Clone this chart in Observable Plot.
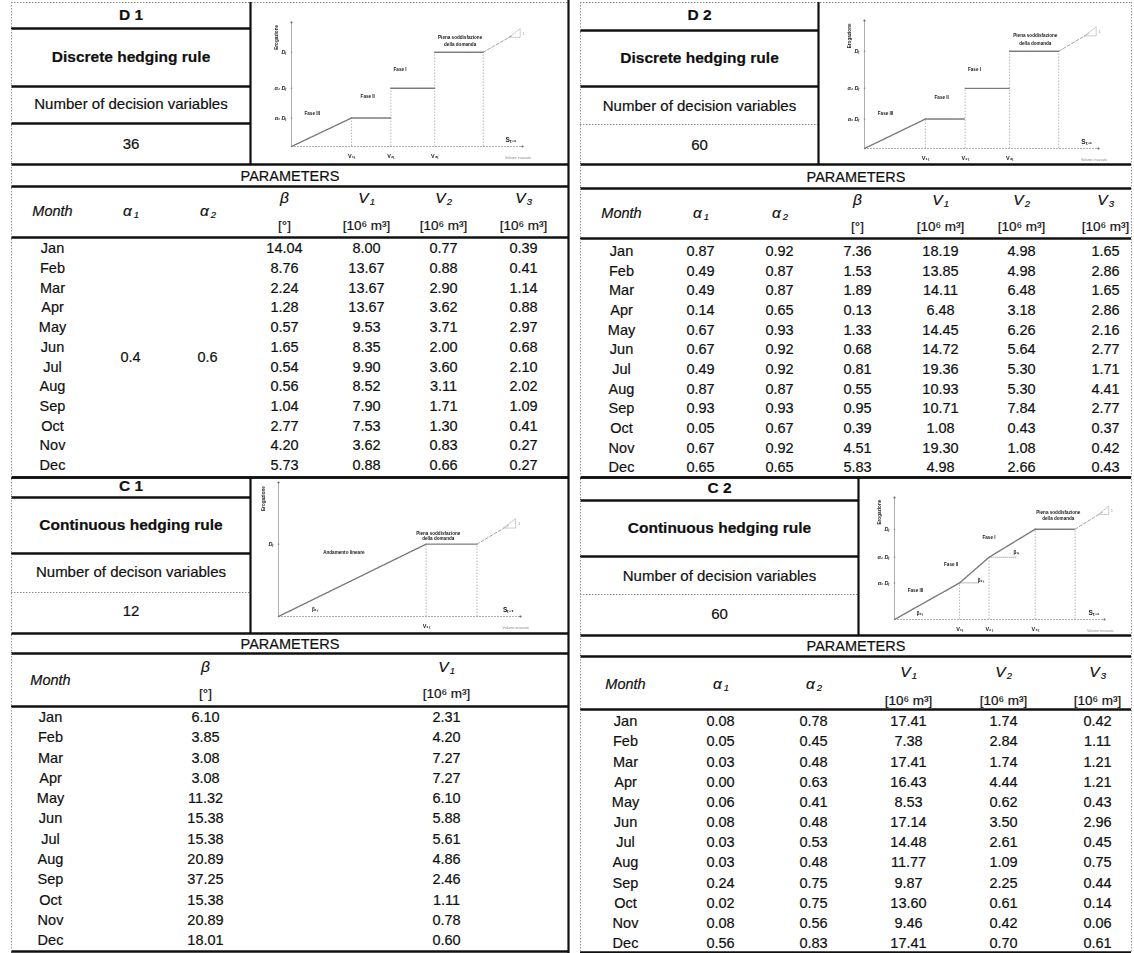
<!DOCTYPE html>
<html>
<head>
<meta charset="utf-8">
<script src="https://cdn.jsdelivr.net/npm/d3@7"></script>
<script src="https://cdn.jsdelivr.net/npm/@observablehq/plot@0.6"></script>
<style>
  html, body { margin: 0; padding: 0; background: #fff; }
  #sheet { position: relative; width: 1134px; height: 953px; overflow: hidden; background: #fff; }
  #sheet .layer { position: absolute; }
  #sheet svg { display: block; overflow: visible; }
</style>
</head>
<body>
<div id="sheet"></div>
<script>
// ---------------------------------------------------------------------------
// Calibrated hedging-rule parameters, one table per rule variant
// ---------------------------------------------------------------------------
const months = ["Jan", "Feb", "Mar", "Apr", "May", "Jun", "Jul", "Aug", "Sep", "Oct", "Nov", "Dec"];

// D1 – discrete hedging rule, fixed alphas
const d1Alpha1 = 0.4;
const d1Alpha2 = 0.6;
const d1Beta = [14.04, 8.76, 2.24, 1.28, 0.57, 1.65, 0.54, 0.56, 1.04, 2.77, 4.20, 5.73];
const d1V1 = [8.00, 13.67, 13.67, 13.67, 9.53, 8.35, 9.90, 8.52, 7.90, 7.53, 3.62, 0.88];
const d1V2 = [0.77, 0.88, 2.90, 3.62, 3.71, 2.00, 3.60, 3.11, 1.71, 1.30, 0.83, 0.66];
const d1V3 = [0.39, 0.41, 1.14, 0.88, 2.97, 0.68, 2.10, 2.02, 1.09, 0.41, 0.27, 0.27];

// D2 – discrete hedging rule, monthly alphas
const d2Alpha1 = [0.87, 0.49, 0.49, 0.14, 0.67, 0.67, 0.49, 0.87, 0.93, 0.05, 0.67, 0.65];
const d2Alpha2 = [0.92, 0.87, 0.87, 0.65, 0.93, 0.92, 0.92, 0.87, 0.93, 0.67, 0.92, 0.65];
const d2Beta = [7.36, 1.53, 1.89, 0.13, 1.33, 0.68, 0.81, 0.55, 0.95, 0.39, 4.51, 5.83];
const d2V1 = [18.19, 13.85, 14.11, 6.48, 14.45, 14.72, 19.36, 10.93, 10.71, 1.08, 19.30, 4.98];
const d2V2 = [4.98, 4.98, 6.48, 3.18, 6.26, 5.64, 5.30, 5.30, 7.84, 0.43, 1.08, 2.66];
const d2V3 = [1.65, 2.86, 1.65, 2.86, 2.16, 2.77, 1.71, 4.41, 2.77, 0.37, 0.42, 0.43];

// C1 – continuous (single slope) hedging rule
const c1Beta = [6.10, 3.85, 3.08, 3.08, 11.32, 15.38, 15.38, 20.89, 37.25, 15.38, 20.89, 18.01];
const c1V1 = [2.31, 4.20, 7.27, 7.27, 6.10, 5.88, 5.61, 4.86, 2.46, 1.11, 0.78, 0.60];

// C2 – continuous (three slope) hedging rule
const c2Alpha1 = [0.08, 0.05, 0.03, 0.00, 0.06, 0.08, 0.03, 0.03, 0.24, 0.02, 0.08, 0.56];
const c2Alpha2 = [0.78, 0.45, 0.48, 0.63, 0.41, 0.48, 0.53, 0.48, 0.75, 0.75, 0.56, 0.83];
const c2V1 = [17.41, 7.38, 17.41, 16.43, 8.53, 17.14, 14.48, 11.77, 9.87, 13.60, 9.46, 17.41];
const c2V2 = [1.74, 2.84, 1.74, 4.44, 0.62, 3.50, 2.61, 1.09, 2.25, 0.61, 0.42, 0.70];
const c2V3 = [0.42, 1.11, 1.21, 1.21, 0.43, 2.96, 0.45, 0.75, 0.44, 0.14, 0.06, 0.61];

// Number of decision variables per variant
const decisionCounts = [36, 60, 12, 60];
const variantNames = ["D 1", "D 2", "C 1", "C 2"];
const ruleNames = ["Discrete hedging rule", "Discrete hedging rule", "Continuous hedging rule", "Continuous hedging rule"];
const countLabels = ["Number of decision variables", "Number of decision variables", "Number of decison variables", "Number of decision variables"];

const unitVolume = "[10\u2076 m\u00b3]";
const unitAngle = "[\u00b0]";

// ---------------------------------------------------------------------------
// Table layout (sheet pixels)
// ---------------------------------------------------------------------------
const FONT = "'Liberation Sans', Arial, Helvetica, sans-serif";
const INK = "#101010";

const lines = [];   // horizontal rules
const vlines = [];  // vertical rules
const texts = [];   // all table text
const H = (y, x1, x2, kind = "thick") => lines.push({y, x1, x2, kind});
const V = (x, y1, y2, kind = "thick") => vlines.push({x, y1, y2, kind});
const T = (x, y, text, size, face = "regular") => texts.push({x, y, text: String(text), size, face});

const vol = (x, sub, values) => ({x, sym: "V", sub, unit: unitVolume, values});

const panels = [
  {
    idx: 0, left: 11, right: 568, split: 250,
    head: {top: 2, topKind: "dotted", l1: 28, l2: 86, l3: 123, l3Kind: "thick", bottom: 164,
           titleY: 15, ruleY: 57, countLabelY: 104, countY: 144},
    table: {paramsY: 176, paramsLine: 186, headTop: 198, headMid: 211, headBot: 225, headLine: 237,
            row0: 248, step: 19.73, bottom: 477},
    cols: [
      {x: 52, month: true},
      {x: 130, sym: "\u03b1", sub: "1", merged: d1Alpha1},
      {x: 207, sym: "\u03b1", sub: "2", merged: d1Alpha2},
      {x: 284, sym: "\u03b2", unit: unitAngle, values: d1Beta},
      vol(366, "1", d1V1), vol(443, "2", d1V2), vol(523, "3", d1V3)
    ]
  },
  {
    idx: 1, left: 580, right: 1131, split: 818,
    head: {top: 2, topKind: "dotted", l1: 30, l2: 86, l3: 124, l3Kind: "dotted", bottom: 164,
           titleY: 15, ruleY: 58, countLabelY: 106, countY: 145},
    table: {paramsY: 177, paramsLine: 188, headTop: 200, headMid: 213, headBot: 226, headLine: 238,
            row0: 251, step: 19.64, bottom: 477},
    cols: [
      {x: 621, month: true},
      {x: 700, sym: "\u03b1", sub: "1", values: d2Alpha1},
      {x: 779, sym: "\u03b1", sub: "2", values: d2Alpha2},
      {x: 857, sym: "\u03b2", unit: unitAngle, values: d2Beta},
      vol(940, "1", d2V1), vol(1021, "2", d2V2), vol(1105, "3", d2V3)
    ]
  },
  {
    idx: 2, left: 11, right: 568, split: 250,
    head: {top: 477, topKind: "thick", l1: 497, l2: 553, l3: 592, l3Kind: "dotted", bottom: 633,
           titleY: 486, ruleY: 525, countLabelY: 572, countY: 611},
    table: {paramsY: 644, paramsLine: 653, headTop: 667, headMid: 680, headBot: 693, headLine: 706,
            row0: 717, step: 20.27, bottom: 951},
    cols: [
      {x: 50, month: true},
      {x: 205, sym: "\u03b2", unit: unitAngle, values: c1Beta},
      vol(446, "1", c1V1)
    ]
  },
  {
    idx: 3, left: 580, right: 1131, split: 858,
    head: {top: 477, topKind: "thick", l1: 500, l2: 556, l3: 594, l3Kind: "dotted", bottom: 635,
           titleY: 488, ruleY: 528, countLabelY: 576, countY: 614},
    table: {paramsY: 646, paramsLine: 656, headTop: 672, headMid: 684, headBot: 700, headLine: 709,
            row0: 721, step: 20.18, bottom: 952},
    cols: [
      {x: 625, month: true},
      {x: 720, sym: "\u03b1", sub: "1", values: c2Alpha1},
      {x: 813, sym: "\u03b1", sub: "2", values: c2Alpha2},
      vol(908, "1", c2V1), vol(1003, "2", c2V2), vol(1097, "3", c2V3)
    ]
  }
];

function buildPanel(p) {
  const {left, right, split, head: h, table: t} = p;
  const cx = (left + split) / 2;

  // identification block
  H(h.top, left, right, h.topKind);
  H(h.l1, left, split);
  H(h.l2, left, split);
  H(h.l3, left, split, h.l3Kind);
  H(h.bottom, left, right);
  V(split, h.top, h.bottom);
  T(cx, h.titleY, variantNames[p.idx], 15.5, "bold");
  T(cx, h.ruleY, ruleNames[p.idx], 15.5, "bold");
  T(cx, h.countLabelY, countLabels[p.idx], 15);
  T(cx, h.countY, decisionCounts[p.idx], 15);

  // parameter table
  T((left + right) / 2, t.paramsY, "PARAMETERS", 14.5);
  H(t.paramsLine, left, right);
  H(t.headLine, left, right);
  H(t.bottom, left, right);
  const rowY = i => t.row0 + i * t.step;

  for (const c of p.cols) {
    if (c.month) {
      T(c.x, t.headMid, "Month", 14.5, "italic");
      months.forEach((m, i) => T(c.x, rowY(i), m, 14.5));
      continue;
    }
    const yHead = c.unit ? t.headTop : t.headMid;
    if (c.sub) {
      T(c.x - 3, yHead, c.sym, 15.5, "italic");
      T(c.x + 6, yHead + 3, c.sub, 9.5, "italic");
    } else {
      T(c.x, yHead, c.sym, 15.5, "italic");
    }
    if (c.unit) T(c.x, t.headBot, c.unit, 13.5);
    if (c.merged != null) {
      T(c.x, (rowY(5) + rowY(6)) / 2, c.merged, 14.5);
    } else {
      c.values.forEach((v, i) => T(c.x, rowY(i), v.toFixed(2), 14.5));
    }
  }
}
panels.forEach(buildPanel);

// outer frame of the two columns of tables
V(11, 2, 953, "dotted");
V(568, 0, 953, "thick");
V(580, 2, 953, "dotted");
V(1131, 2, 953, "dotted");

const textMark = face => Plot.text(texts.filter(d => d.face === face), {
  x: "x", y: "y", text: "text", fontSize: "size",
  fontWeight: face === "bold" ? "bold" : "normal",
  fontStyle: face === "italic" ? "italic" : "normal",
  fill: INK, stroke: INK, strokeWidth: 0.2,
  textAnchor: "middle", lineAnchor: "middle"
});

const tablePlot = Plot.plot({
  width: 1134, height: 953, margin: 0,
  x: {type: "linear", domain: [0, 1134], range: [0, 1134], axis: null},
  y: {type: "linear", domain: [0, 953], range: [0, 953], axis: null},
  style: {fontFamily: FONT, background: "transparent", overflow: "visible"},
  marks: [
    Plot.ruleY(lines.filter(d => d.kind === "dotted"), {y: "y", x1: "x1", x2: "x2", stroke: "#8a8a8a", strokeWidth: 1, strokeDasharray: "1.5,1.5"}),
    Plot.ruleY(lines.filter(d => d.kind === "thick"), {y: "y", x1: "x1", x2: "x2", stroke: INK, strokeWidth: 2.4}),
    Plot.ruleX(vlines.filter(d => d.kind === "dotted"), {x: "x", y1: "y1", y2: "y2", stroke: "#9a9a9a", strokeWidth: 1, strokeDasharray: "1.5,1.5"}),
    Plot.ruleX(vlines.filter(d => d.kind === "thick"), {x: "x", y1: "y1", y2: "y2", stroke: INK, strokeWidth: 2.2}),
    textMark("regular"),
    textMark("bold"),
    textMark("italic")
  ]
});

const sheet = document.getElementById("sheet");
const base = document.createElement("div");
base.className = "layer";
base.style.left = "0px";
base.style.top = "0px";
base.appendChild(tablePlot);
sheet.appendChild(base);

// ---------------------------------------------------------------------------
// Schematic release-vs-storage sketches (normalised storage s, release r)
// ---------------------------------------------------------------------------
// discrete rule: three flat phases separated by storage thresholds V1t, V2t, V3t
const discreteRule = [
  {seg: "III", s: 0.00, r: 0.00}, {seg: "III", s: 0.26, r: 0.23},
  {seg: "II", s: 0.26, r: 0.23}, {seg: "II", s: 0.43, r: 0.23},
  {seg: "I", s: 0.43, r: 0.47}, {seg: "I", s: 0.62, r: 0.47},
  {seg: "full", s: 0.62, r: 0.76}, {seg: "full", s: 0.83, r: 0.76}
];
const discreteDrops = [{s: 0.26, r: 0.23}, {s: 0.43, r: 0.47}, {s: 0.62, r: 0.76}, {s: 0.83, r: 0.76}];
const discreteYLabels = [{r: 0.76, t: "D\u209c"}, {r: 0.47, t: "\u03b1\u2082 D\u209c"}, {r: 0.23, t: "\u03b1\u2081 D\u209c"}];
const discreteXLabels = [{s: 0.26, t: "V\u2081\u209c"}, {s: 0.43, t: "V\u2082\u209c"}, {s: 0.62, t: "V\u2083\u209c"}];
const discreteNotes = [
  {s: 0.09, r: 0.27, t: "Fase III"}, {s: 0.33, r: 0.40, t: "Fase II"}, {s: 0.47, r: 0.62, t: "Fase I"},
  {s: 0.73, r: 0.88, t: "Piena soddisfazione"}, {s: 0.73, r: 0.82, t: "della domanda"}
];
const discreteSpill = {s: 0.83, r: 0.76};

// continuous rule, one slope up to full demand
const linearRule = [
  {seg: "hedge", s: 0.00, r: 0.00}, {seg: "hedge", s: 0.61, r: 0.54},
  {seg: "full", s: 0.61, r: 0.54}, {seg: "full", s: 0.82, r: 0.54}
];
const linearDrops = [{s: 0.61, r: 0.54}, {s: 0.82, r: 0.54}];
const linearYLabels = [{r: 0.54, t: "D\u209c"}];
const linearXLabels = [{s: 0.61, t: "V\u2081\u209c"}];
const linearNotes = [
  {s: 0.27, r: 0.48, t: "Andamento lineare"},
  {s: 0.66, r: 0.62, t: "Piena soddisfazione"}, {s: 0.66, r: 0.58, t: "della domanda"},
  {s: 0.15, r: 0.05, t: "\u03b2\u2081\u209c"}
];
const linearSpill = {s: 0.82, r: 0.54};

// continuous rule, three slopes
const threeSlopeRule = [
  {seg: "hedge", s: 0.00, r: 0.00}, {seg: "hedge", s: 0.31, r: 0.30},
  {seg: "hedge", s: 0.45, r: 0.51}, {seg: "hedge", s: 0.67, r: 0.74},
  {seg: "full", s: 0.67, r: 0.74}, {seg: "full", s: 0.86, r: 0.74}
];
const threeSlopeGuides = [
  {seg: "a1", s: 0.31, r: 0.30}, {seg: "a1", s: 0.40, r: 0.30},
  {seg: "a2", s: 0.45, r: 0.51}, {seg: "a2", s: 0.58, r: 0.51}
];
const threeSlopeDrops = [{s: 0.31, r: 0.30}, {s: 0.45, r: 0.51}, {s: 0.67, r: 0.74}, {s: 0.86, r: 0.74}];
const threeSlopeYLabels = [{r: 0.74, t: "D\u209c"}, {r: 0.51, t: "\u03b1\u2082 D\u209c"}, {r: 0.30, t: "\u03b1\u2081 D\u209c"}];
const threeSlopeXLabels = [{s: 0.31, t: "V\u2081\u209c"}, {s: 0.45, t: "V\u2082\u209c"}, {s: 0.67, t: "V\u2083\u209c"}];
const threeSlopeNotes = [
  {s: 0.10, r: 0.24, t: "Fase III"}, {s: 0.27, r: 0.45, t: "Fase II"}, {s: 0.45, r: 0.67, t: "Fase I"},
  {s: 0.78, r: 0.88, t: "Piena soddisfazione"}, {s: 0.78, r: 0.83, t: "della domanda"},
  {s: 0.12, r: 0.05, t: "\u03b2\u2083\u209c"}, {s: 0.41, r: 0.32, t: "\u03b2\u2082\u209c"}, {s: 0.58, r: 0.55, t: "\u03b2\u2081\u209c"}
];
const threeSlopeSpill = {s: 0.86, r: 0.74};

// where each sketch sits on the sheet: box, origin, end of storage axis, top of release axis
const sketches = [
  {box: [252, 3, 314, 160], origin: [291, 146], xEnd: 522, yTop: 22,
   rule: discreteRule, guides: [], drops: discreteDrops, yl: discreteYLabels, xl: discreteXLabels, notes: discreteNotes, spill: discreteSpill},
  {box: [820, 3, 310, 160], origin: [864, 148], xEnd: 1098, yTop: 20,
   rule: discreteRule, guides: [], drops: discreteDrops, yl: discreteYLabels, xl: discreteXLabels, notes: discreteNotes, spill: discreteSpill},
  {box: [252, 479, 314, 153], origin: [278, 616], xEnd: 520, yTop: 482,
   rule: linearRule, guides: [], drops: linearDrops, yl: linearYLabels, xl: linearXLabels, notes: linearNotes, spill: linearSpill},
  {box: [860, 479, 270, 154], origin: [894, 619], xEnd: 1104, yTop: 497,
   rule: threeSlopeRule, guides: threeSlopeGuides, drops: threeSlopeDrops, yl: threeSlopeYLabels, xl: threeSlopeXLabels, notes: threeSlopeNotes, spill: threeSlopeSpill}
];

function sketchPlot(k) {
  const [bx, by, bw, bh] = k.box;
  const x0 = k.origin[0] - bx, y0 = k.origin[1] - by;
  const x1 = k.xEnd - bx, y1 = k.yTop - by;
  const sp = k.spill;
  const spillLine = [{s: sp.s, r: sp.r}, {s: sp.s + 0.13, r: sp.r + 0.14}];
  const slopeTri = [
    {s: sp.s + 0.11, r: sp.r + 0.12}, {s: sp.s + 0.16, r: sp.r + 0.12},
    {s: sp.s + 0.16, r: sp.r + 0.19}, {s: sp.s + 0.11, r: sp.r + 0.12}
  ];
  const tiny = {fontSize: 5.5, fontWeight: "bold", fill: "#1a1a1a"};
  return Plot.plot({
    width: bw, height: bh, margin: 0,
    x: {domain: [0, 1], range: [x0, x1], axis: null},
    y: {domain: [0, 1], range: [y0, y1], axis: null},
    style: {fontFamily: FONT, background: "transparent", overflow: "visible"},
    marks: [
      // axes
      Plot.ruleY([0], {x1: 0, x2: 1, stroke: "#b0b0b0", strokeWidth: 1, strokeDasharray: "2,1"}),
      Plot.ruleX([0], {y1: 0, y2: 1, stroke: "#b0b0b0", strokeWidth: 1}),
      Plot.dot([{s: 0, r: 1}, {s: 1, r: 0}], {x: "s", y: "r", r: 1.1, fill: "#666", stroke: null}),
      Plot.dot(k.yl, {x: 0, y: "r", r: 0.8, fill: "#888", stroke: null}),
      // storage thresholds
      Plot.ruleX(k.drops, {x: "s", y1: 0, y2: "r", stroke: "#b0b0b0", strokeWidth: 0.9, strokeDasharray: "1.5,1.5"}),
      // slope guides
      Plot.line(k.guides, {x: "s", y: "r", z: "seg", stroke: "#a8a8a8", strokeWidth: 0.9, strokeDasharray: "1,1"}),
      // release rule
      Plot.line(k.rule, {x: "s", y: "r", z: "seg", stroke: "#7a7a7a", strokeWidth: 1.4, strokeDasharray: "1.6,0.9"}),
      // spill branch and slope triangle
      Plot.line(spillLine, {x: "s", y: "r", stroke: "#a0a0a0", strokeWidth: 1, strokeDasharray: "3,2"}),
      Plot.line(slopeTri, {x: "s", y: "r", stroke: "#b8b8b8", strokeWidth: 0.8, strokeDasharray: "1,1"}),
      Plot.text([{s: sp.s + 0.175, r: sp.r + 0.15}], {x: "s", y: "r", text: () => "1", fontSize: 4, fill: "#999"}),
      // labels
      Plot.text(k.yl, {x: 0, y: "r", text: "t", dx: -5, textAnchor: "end", ...tiny, fontStyle: "italic"}),
      Plot.text(k.xl, {x: "s", y: 0, text: "t", dy: 10, ...tiny}),
      Plot.text(k.notes, {x: "s", y: "r", text: "t", ...tiny, fontSize: 4.6}),
      Plot.text([{s: 0, r: 0.88}], {x: "s", y: "r", text: () => "Erogazione", rotate: -90, dx: -15, ...tiny, fontSize: 4.6}),
      Plot.text([{s: 0.95, r: 0.05}], {x: "s", y: "r", text: () => "S\u209c\u208b\u2081", ...tiny, fontSize: 6.5}),
      Plot.text([{s: 0.98, r: 0}], {x: "s", y: "r", text: () => "Volume invasato", dy: 11, fontSize: 3.6, fill: "#8a8a8a"})
    ]
  });
}

for (const k of sketches) {
  const layer = document.createElement("div");
  layer.className = "layer";
  layer.style.left = k.box[0] + "px";
  layer.style.top = k.box[1] + "px";
  layer.style.filter = "blur(0.3px)";
  layer.appendChild(sketchPlot(k));
  sheet.appendChild(layer);
}
</script>
</body>
</html>
